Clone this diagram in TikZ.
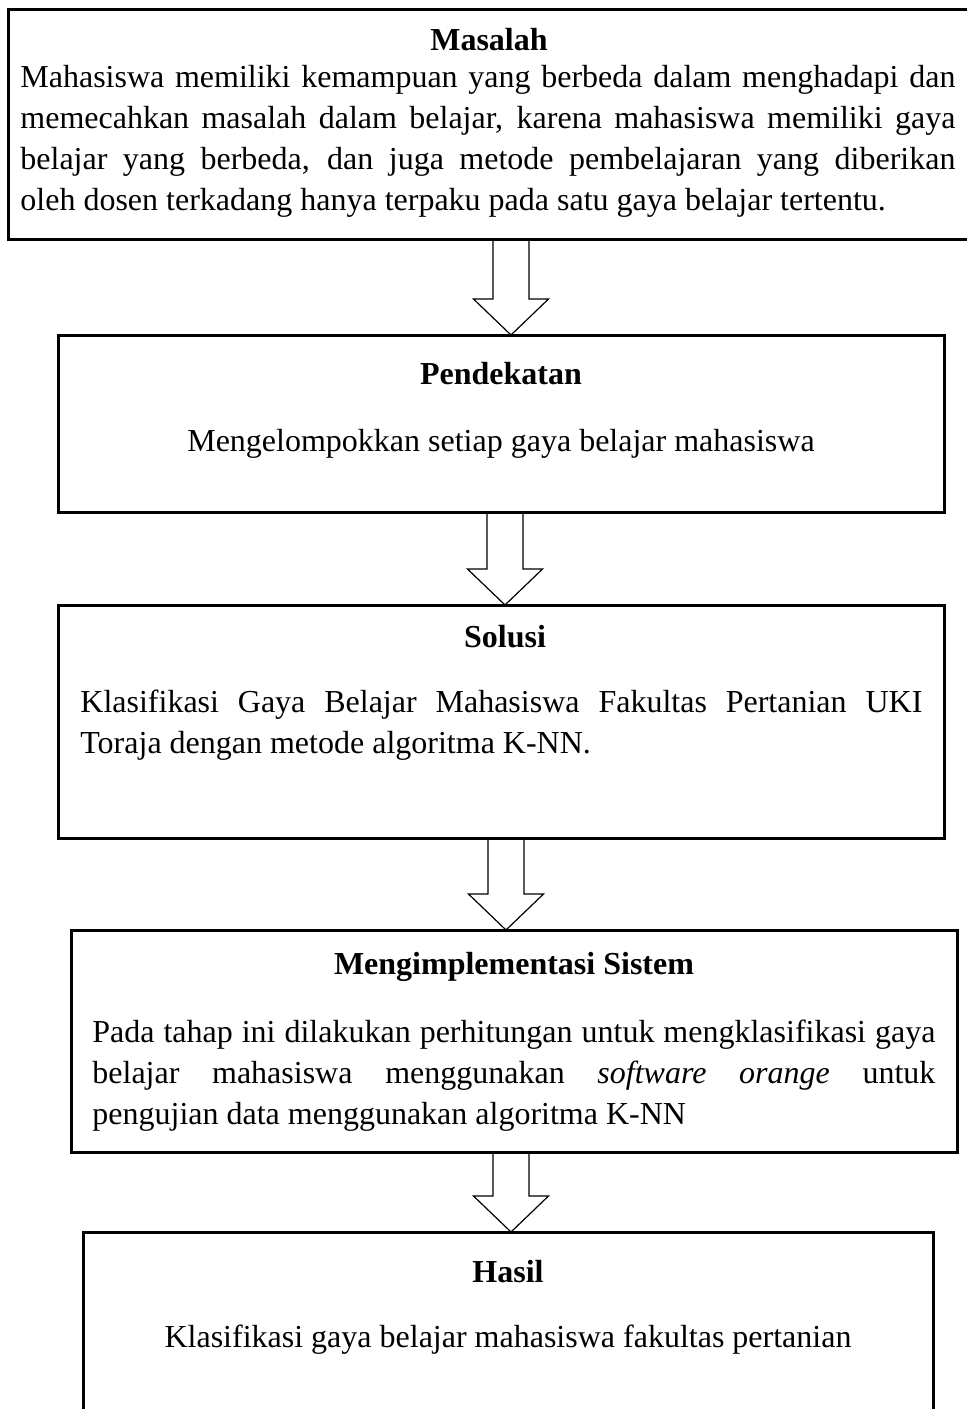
\documentclass[tikz,border=0pt]{standalone}
\usepackage{fontspec}
\setmainfont{Liberation Serif}
\usetikzlibrary{calc}
\tikzset{
  stagebox/.style={draw, line width=1.5pt, outer sep=0pt, inner sep=0pt, anchor=north west},
  boxtitle/.style={font=\fontsize{16}{20.5}\selectfont\bfseries, inner sep=0pt},
  boxtext/.style={align=justify, inner sep=0pt, anchor=north west},
  blockarrow/.style={draw, line width=0.6pt, line join=miter}
}

\begin{document}
\begin{tikzpicture}[x=0.5pt, y=-0.5pt, font=\fontsize{16}{20.5}\selectfont]
    \useasboundingbox (0,0) rectangle (966,1409);
    % boxes
    \node[stagebox, minimum width=482.5pt, minimum height=115pt] (masalah) at (8,9) {};
    \node[stagebox, minimum width=443pt, minimum height=88.5pt] (pendekatan) at (58,335) {};
    \node[stagebox, minimum width=443pt, minimum height=116.5pt] (solusi) at (58,605) {};
    \node[stagebox, minimum width=443pt, minimum height=111pt] (implementasi) at (71,930) {};
    \node[stagebox, minimum width=425pt, minimum height=104pt] (hasil) at (83,1232) {};
    % texts
    \node[boxtitle] (masalah-t) at (489,40) {Masalah};
    \node[boxtext, text width=467.5pt] (masalah-b) at (20,65) {Mahasiswa memiliki kemampuan yang berbeda dalam menghadapi dan\linebreak
      memecahkan masalah dalam belajar, karena mahasiswa memiliki gaya\linebreak
      belajar yang berbeda, dan juga metode pembelajaran yang diberikan\linebreak
      oleh dosen terkadang hanya terpaku pada satu gaya belajar tertentu.};
    \node[boxtitle] (pendekatan-t) at (501,374) {Pendekatan};
    \node[inner sep=0pt] (pendekatan-b) at (501,444) {Mengelompokkan setiap gaya belajar mahasiswa};
    \node[boxtitle] (solusi-t) at (505,637) {Solusi};
    \node[boxtext, text width=421pt] (solusi-b) at (80,690) {Klasifikasi Gaya Belajar Mahasiswa Fakultas Pertanian UKI\linebreak
      Toraja dengan metode algoritma K-NN.};
    \node[boxtitle] (implementasi-t) at (514,967) {Mengimplementasi Sistem};
    \node[boxtext, text width=421.5pt] (implementasi-b) at (92,1020) {Pada tahap ini dilakukan perhitungan untuk mengklasifikasi gaya\linebreak
      belajar mahasiswa menggunakan \textit{software orange} untuk\linebreak
      pengujian data menggunakan algoritma K-NN};
    \node[boxtitle] (hasil-t) at (508,1272) {Hasil};
    \node[inner sep=0pt] (hasil-b) at (508,1340) {Klasifikasi gaya belajar mahasiswa fakultas pertanian};
    % block arrows
    \coordinate (ax1) at (511,0);
    \coordinate (ax2) at (505,0);
    \coordinate (ax3) at (506,0);
    \coordinate (ax4) at (511,0);
    \draw[blockarrow] ($(masalah.south -| ax1)+(-18,0)$) -- ($(pendekatan.north -| ax1)+(-18,-36)$) -- ++(-19.5,0)
      -- (pendekatan.north -| ax1) -- ++(37.5,-36) -- ++(-19.5,0) -- ($(masalah.south -| ax1)+(18,0)$);
    \draw[blockarrow] ($(pendekatan.south -| ax2)+(-18,0)$) -- ($(solusi.north -| ax2)+(-18,-36)$) -- ++(-19.5,0)
      -- (solusi.north -| ax2) -- ++(37.5,-36) -- ++(-19.5,0) -- ($(pendekatan.south -| ax2)+(18,0)$);
    \draw[blockarrow] ($(solusi.south -| ax3)+(-18,0)$) -- ($(implementasi.north -| ax3)+(-18,-36)$) -- ++(-19.5,0)
      -- (implementasi.north -| ax3) -- ++(37.5,-36) -- ++(-19.5,0) -- ($(solusi.south -| ax3)+(18,0)$);
    \draw[blockarrow] ($(implementasi.south -| ax4)+(-18,0)$) -- ($(hasil.north -| ax4)+(-18,-36)$) -- ++(-19.5,0)
      -- (hasil.north -| ax4) -- ++(37.5,-36) -- ++(-19.5,0) -- ($(implementasi.south -| ax4)+(18,0)$);
  \end{tikzpicture}
\end{document}
